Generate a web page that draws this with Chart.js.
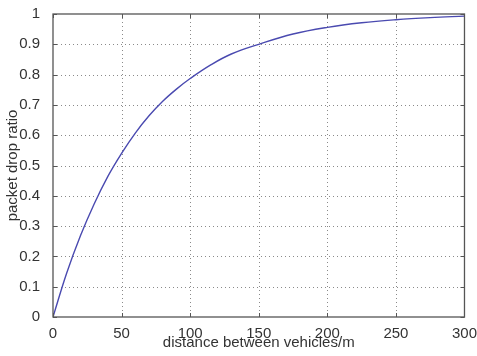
<!DOCTYPE html>
<html>
<head>
<meta charset="utf-8">
<script src="https://cdn.jsdelivr.net/npm/chart.js@4/dist/chart.umd.min.js"></script>
<style>
  html, body { margin: 0; padding: 0; background: #fff; }
  #wrap { width: 477px; height: 356px; }
</style>
</head>
<body>
<div id="wrap"><canvas id="c" width="477" height="356"></canvas></div>
<script>
// distance (m) vs packet drop ratio
const distances = [0, 10, 20, 30, 40, 50, 60, 70, 80, 90, 100, 115, 130, 150, 175, 200, 225, 250, 275, 300];
const dropRatio = [0, 0.145, 0.268, 0.373, 0.464, 0.54, 0.607, 0.664, 0.712, 0.752, 0.787, 0.832, 0.868, 0.90, 0.934, 0.956, 0.971, 0.981, 0.988, 0.993];
const xTicks = [0, 50, 100, 150, 200, 250, 300];
const yTicks = [0, 0.1, 0.2, 0.3, 0.4, 0.5, 0.6, 0.7, 0.8, 0.9, 1];

const FONT = 'Liberation Sans, Arial, sans-serif';

// matlab style box: dotted grid, frame, inward ticks
const matlabBox = {
  id: 'matlabBox',
  beforeDatasetsDraw(chart) {
    const { ctx, chartArea: a, scales: { x, y } } = chart;
    ctx.save();
    ctx.strokeStyle = '#8a8a8a';
    ctx.lineWidth = 1;
    ctx.setLineDash([1, 3]);
    xTicks.slice(1, -1).forEach(v => {
      const px = Math.round(x.getPixelForValue(v)) + 0.5;
      ctx.beginPath(); ctx.moveTo(px, a.top); ctx.lineTo(px, a.bottom); ctx.stroke();
    });
    yTicks.slice(1, -1).forEach(v => {
      const py = Math.round(y.getPixelForValue(v)) + 0.5;
      ctx.beginPath(); ctx.moveTo(a.left, py); ctx.lineTo(a.right, py); ctx.stroke();
    });
    ctx.restore();
  },
  afterDatasetsDraw(chart) {
    const { ctx, chartArea: a, scales: { x, y } } = chart;
    ctx.save();
    ctx.strokeStyle = '#555';
    ctx.lineWidth = 1.3;
    ctx.strokeRect(a.left, a.top, a.right - a.left, a.bottom - a.top);
    ctx.lineWidth = 1;
    const t = 4;
    xTicks.forEach(v => {
      const px = Math.round(x.getPixelForValue(v)) + 0.5;
      ctx.beginPath();
      ctx.moveTo(px, a.bottom); ctx.lineTo(px, a.bottom - t);
      ctx.moveTo(px, a.top); ctx.lineTo(px, a.top + t);
      ctx.stroke();
    });
    yTicks.forEach(v => {
      const py = Math.round(y.getPixelForValue(v)) + 0.5;
      ctx.beginPath();
      ctx.moveTo(a.left, py); ctx.lineTo(a.left + t, py);
      ctx.moveTo(a.right, py); ctx.lineTo(a.right - t, py);
      ctx.stroke();
    });
    ctx.restore();
  }
};

new Chart(document.getElementById('c'), {
  type: 'line',
  data: {
    datasets: [{
      data: distances.map((d, i) => ({ x: d, y: dropRatio[i] })),
      borderColor: '#4a4ab0',
      borderWidth: 1.4,
      pointRadius: 0,
      fill: false,
      tension: 0.4
    }]
  },
  options: {
    responsive: false,
    animation: false,
    layout: { padding: { left: 0, right: 12, top: 13, bottom: 0 } },
    plugins: { legend: { display: false }, tooltip: { enabled: false } },
    scales: {
      x: {
        type: 'linear',
        min: 0, max: 300,
        grid: { display: false },
        border: { display: false },
        afterBuildTicks: s => { s.ticks = xTicks.map(v => ({ value: v })); },
        afterFit: s => { s.height = 39; },
        ticks: { color: '#333', font: { family: FONT, size: 15 }, padding: 0, maxRotation: 0 },
        title: { display: true, text: 'distance between vehicles/m', color: '#333',
                 font: { family: FONT, size: 15 }, padding: { top: 0, bottom: 4 } }
      },
      y: {
        min: 0, max: 1,
        grid: { display: false },
        border: { display: false },
        afterBuildTicks: s => { s.ticks = yTicks.map(v => ({ value: v })); },
        afterFit: s => { s.width = 53; },
        ticks: { color: '#333', font: { family: FONT, size: 15 }, padding: 5,
                 callback: v => String(v) },
        title: { display: true, text: 'packet drop ratio', color: '#333',
                 font: { family: FONT, size: 15 }, padding: { top: 4, bottom: 0 } }
      }
    }
  },
  plugins: [matlabBox]
});
</script>
</body>
</html>
